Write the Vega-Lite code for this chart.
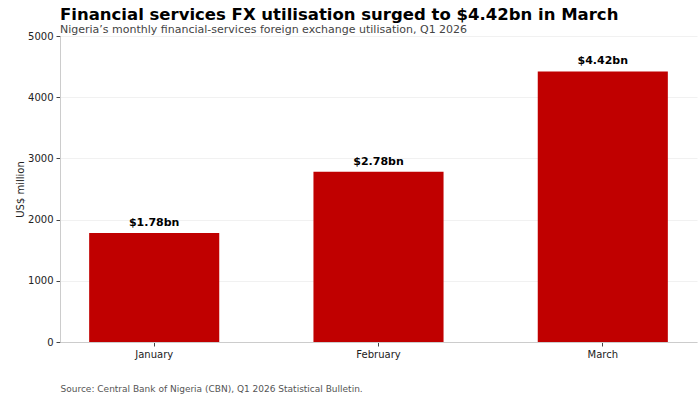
{
  "$schema": "https://vega.github.io/schema/vega-lite/v6.json",
  "width": 637,
  "height": 306,
  "autosize": {"type": "none"},
  "padding": {"left": 60, "top": 36, "right": 3, "bottom": 58},
  "background": "white",
  "title": {
    "text": "Financial services FX utilisation surged to $4.42bn in March",
    "subtitle": "Nigeria\u2019s monthly financial-services foreign exchange utilisation, Q1 2026",
    "anchor": "start",
    "frame": "group",
    "font": "DejaVu Sans",
    "fontSize": 16.5,
    "fontWeight": "bold",
    "color": "black",
    "subtitleFont": "DejaVu Sans",
    "subtitleFontSize": 11,
    "subtitleColor": "#444444",
    "subtitlePadding": 1,
    "offset": -4
  },
  "config": {
    "view": {"stroke": null},
    "font": "DejaVu Sans",
    "axis": {
      "labelFont": "DejaVu Sans",
      "titleFont": "DejaVu Sans",
      "labelFontSize": 10,
      "labelColor": "#222222",
      "domainColor": "#cccccc",
      "tickColor": "#444444",
      "tickSize": 4
    }
  },
  "data": {
    "values": [
      {"month": "January", "value": 1780, "label": "$1.78bn"},
      {"month": "February", "value": 2780, "label": "$2.78bn"},
      {"month": "March", "value": 4420, "label": "$4.42bn"}
    ]
  },
  "encoding": {
    "x": {
      "field": "month",
      "type": "nominal",
      "sort": null,
      "scale": {"paddingInner": 0.42, "paddingOuter": 0.13},
      "axis": {
        "labelAngle": 0,
        "labelPadding": 3,
        "grid": false,
        "title": "Source: Central Bank of Nigeria (CBN), Q1 2026 Statistical Bulletin.",
        "titleAnchor": "start",
        "titleAlign": "left",
        "titleFontSize": 9,
        "titleFontWeight": "normal",
        "titleColor": "#555555",
        "titlePadding": 25
      }
    },
    "y": {
      "field": "value",
      "type": "quantitative",
      "scale": {"domain": [0, 5000], "nice": false},
      "axis": {
        "values": [0, 1000, 2000, 3000, 4000, 5000],
        "format": "d",
        "title": "US$ million",
        "titleFontSize": 10,
        "titleFontWeight": "normal",
        "titleColor": "#222222",
        "titlePadding": 2,
        "gridColor": "#eeeeee",
        "gridWidth": 0.8,
        "labelPadding": 3
      }
    }
  },
  "layer": [
    {
      "mark": {"type": "bar", "color": "#C00000"}
    },
    {
      "mark": {
        "type": "text",
        "baseline": "bottom",
        "dy": -5,
        "fontSize": 11,
        "fontWeight": "bold",
        "color": "black"
      },
      "encoding": {
        "text": {"field": "label"}
      }
    }
  ]
}
